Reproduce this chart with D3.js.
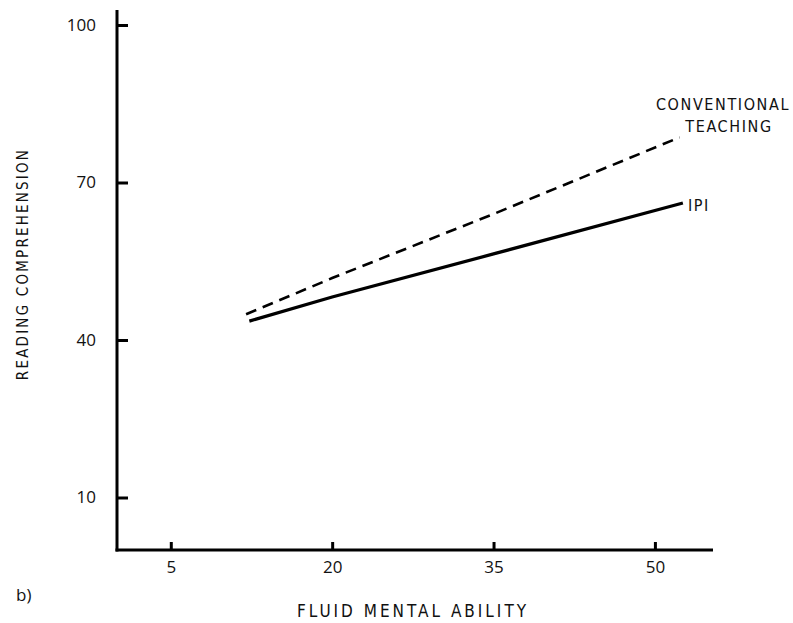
<!DOCTYPE html>
<html><head><meta charset="utf-8">
<script src="https://cdn.jsdelivr.net/npm/d3@7"></script>
<style>body{margin:0;background:#fff}svg{display:block}</style>
</head><body>
<script>
const xTicks = [5, 20, 35, 50];
const yTicks = [10, 40, 70, 100];
const ipiX = [12.3, 20, 35, 52.6];
const ipiY = [43.6, 48.2, 56.4, 66.1];
const convX = [12.0, 20, 35, 52.3];
const convY = [44.9, 51.8, 64.0, 78.6];
const seriesNames = ["IPI", "CONVENTIONAL TEACHING"];

const W = 793, H = 623;
const svg = d3.select("body").append("svg").attr("width", W).attr("height", H);
const x = d3.scaleLinear().domain([0, 55.4]).range([117, 713]);
const y = d3.scaleLinear().domain([0, 100]).range([550, 25]);
const labFont = "'DejaVu Sans Condensed','DejaVu Sans',sans-serif";
const numFont = "'Open Sans','DejaVu Sans',sans-serif";

// axes
const gx = svg.append("g").attr("transform", `translate(0,${y(0)})`)
  .call(d3.axisBottom(x).tickValues(xTicks).tickSize(-8).tickPadding(12).tickSizeOuter(0));
const gy = svg.append("g").attr("transform", `translate(${x(0)},0)`)
  .call(d3.axisLeft(y).tickValues(yTicks).tickSize(-11).tickPadding(21).tickSizeOuter(0));
[gx, gy].forEach(g => {
  g.select(".domain").remove();
  g.selectAll(".tick line").attr("stroke", "#000").attr("stroke-width", 3);
  g.selectAll(".tick text").attr("fill", "#111").style("font-family", numFont).style("font-size", "17px");
});
gx.selectAll(".tick text").attr("dy", "0.62em");
// axis lines
svg.append("line").attr("x1", x(0)).attr("x2", x(0)).attr("y1", 10).attr("y2", y(0) + 1.5)
  .attr("stroke", "#000").attr("stroke-width", 3);
svg.append("line").attr("x1", x(0) - 1.5).attr("x2", 713).attr("y1", y(0)).attr("y2", y(0))
  .attr("stroke", "#000").attr("stroke-width", 3);

const line = d3.line().x(d => x(d[0])).y(d => y(d[1]));
svg.append("path").datum(ipiX.map((v, i) => [v, ipiY[i]])).attr("d", line)
  .attr("fill", "none").attr("stroke", "#000").attr("stroke-width", 3.2);
svg.append("path").datum(convX.map((v, i) => [v, convY[i]])).attr("d", line)
  .attr("fill", "none").attr("stroke", "#000").attr("stroke-width", 2.6).attr("stroke-dasharray", "11,7");

// labels
const lab = (t, xx, yy, size, anchor, ls) => svg.append("text").text(t).attr("x", xx).attr("y", yy)
  .attr("text-anchor", anchor).attr("fill", "#111").style("font-family", labFont)
  .style("font-stretch", "condensed")
  .style("font-size", size + "px").style("letter-spacing", ls + "px");
lab("CONVENTIONAL", 723, 110, 16, "middle", 1.6);
lab("TEACHING", 729, 132, 16, "middle", 1.6);
lab(seriesNames[0], 688, 211, 16, "start", 1.6);
lab("FLUID MENTAL ABILITY", 413, 617, 17, "middle", 3);
svg.append("text").text("READING COMPREHENSION").attr("transform", "translate(28,264) rotate(-90)")
  .attr("text-anchor", "middle").attr("fill", "#111").style("font-family", labFont)
  .style("font-stretch", "condensed")
  .style("font-size", "15px").style("letter-spacing", "2.2px");
svg.append("text").text("b)").attr("x", 16).attr("y", 601).attr("fill", "#111")
  .style("font-family", numFont).style("font-size", "17px");
</script>
</body></html>
